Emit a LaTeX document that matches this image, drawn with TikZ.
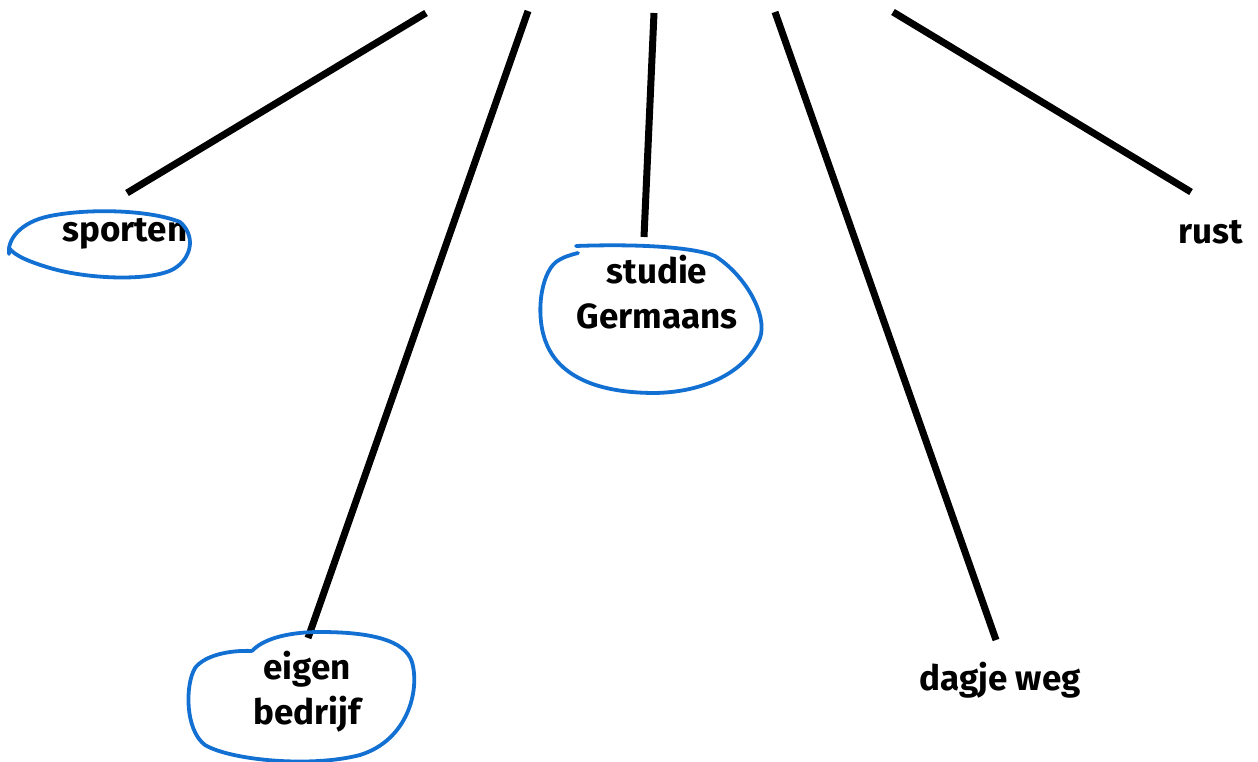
\documentclass[tikz,border=0pt]{standalone}
\usepackage{fontspec}
\setmainfont{Fira Sans}[UprightFont=* Bold]
\definecolor{penblue}{HTML}{1370D3}
\begin{document}
\begin{tikzpicture}[x=1pt,y=-1pt,
  branch/.style={line width=7pt},
  ring/.style={draw=penblue,line width=3.8pt,line cap=round,line join=round},
  word/.style={font=\fontsize{35}{45}\selectfont,align=center,inner sep=0pt}]
\useasboundingbox[fill=white] (0,0) rectangle (1258,762);

% labels
\node[word] (sport) at (125,234) {sporten};
\node[word] (studie) at (657,292) {studie\\Germaans};
\node[word] (eigen) at (307,692) {eigen\\bedrijf};
\node[word] (dagje) at (1000,680) {dagje weg};
\node[word] (rust) at (1211,232) {rust};

% upper ends of the branches
\coordinate (t1) at (426,13);
\coordinate (t2) at (528,11);
\coordinate (t3) at (654,13);
\coordinate (t4) at (775,12);
\coordinate (t5) at (893,12);
% lower ends
\coordinate (b1) at (127,193);
\coordinate (b2) at (308,638);
\coordinate (b3) at (644,237);
\coordinate (b4) at (996,640);
\coordinate (b5) at (1191,192);

\foreach \i in {1,...,5} \draw[branch] (t\i) -- (b\i);

% hand drawn rings
\draw[ring] (9,254) .. controls (7,240) and (20,222) .. (50,216)
  .. controls (90,208) and (150,210) .. (180,222)
  .. controls (195,235) and (192,255) .. (178,266)
  .. controls (160,282) and (90,280) .. (50,268)
  .. controls (30,262) and (15,256) .. (9,248);
\draw[ring] (576,246) .. controls (630,244) and (690,246) .. (715,256)
  .. controls (745,275) and (768,315) .. (760,338)
  .. controls (748,368) and (710,392) .. (655,393)
  .. controls (595,393) and (560,375) .. (547,345)
  .. controls (535,318) and (540,275) .. (556,262)
  .. controls (563,257) and (570,255) .. (578,253);
\draw[ring] (252,651) .. controls (262,640) and (285,632) .. (320,632)
  .. controls (370,632) and (405,640) .. (412,662)
  .. controls (420,690) and (408,740) .. (360,755)
  .. controls (310,768) and (230,760) .. (205,745)
  .. controls (185,730) and (185,685) .. (195,668)
  .. controls (205,655) and (230,650) .. (252,651);
\end{tikzpicture}
\end{document}
